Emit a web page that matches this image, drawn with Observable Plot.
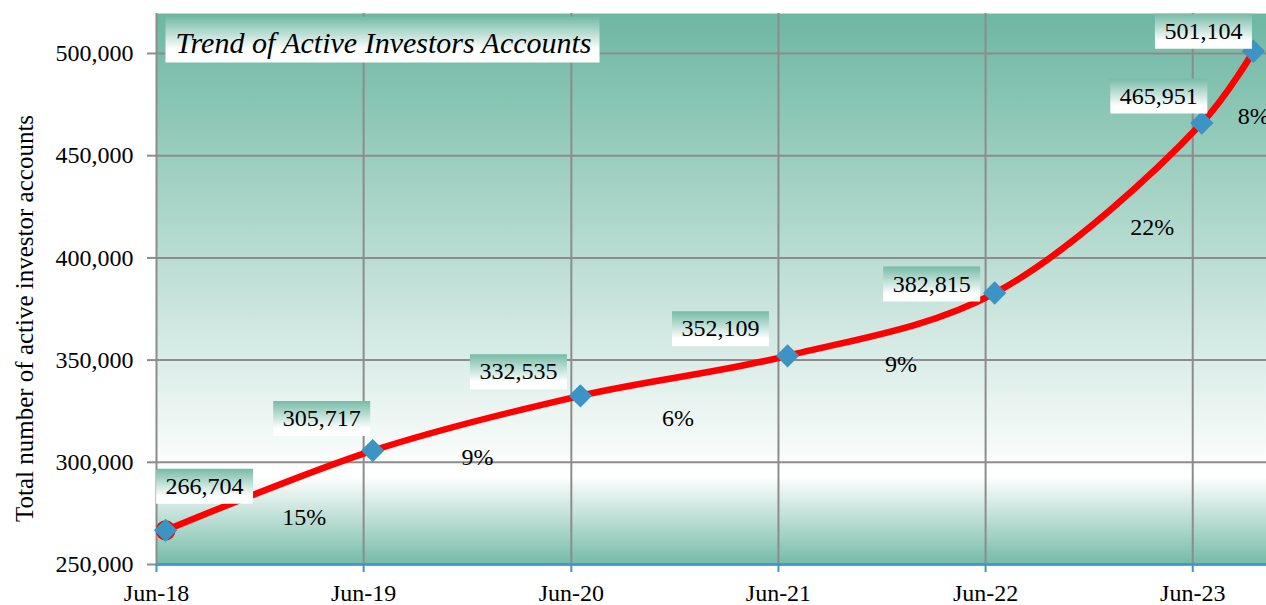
<!DOCTYPE html>
<html>
<head>
<meta charset="utf-8">
<script src="https://cdn.jsdelivr.net/npm/d3@7"></script>
<script src="https://cdn.jsdelivr.net/npm/@observablehq/plot@0.6"></script>
<style>
  html, body { margin: 0; padding: 0; background: #ffffff; }
  #chart { width: 1266px; height: 605px; }
  #chart svg, #chart svg text { font-family: "Liberation Serif", "Times New Roman", serif !important; }
</style>
</head>
<body>
<div id="chart"></div>
<script>
// ---- data ----
const periods = ["2018-06-17", "2019-06-17", "2020-06-17", "2021-06-17", "2022-06-17", "2023-06-17", "2023-09-16"];
const accounts = [266704, 305717, 332535, 352109, 382815, 465951, 501104];
const growthLabels = ["15%", "9%", "6%", "9%", "22%", "8%"];
const xTickDates = ["2018-06-01", "2019-06-01", "2020-06-01", "2021-06-01", "2022-06-01", "2023-06-01"];
const yTickValues = [250000, 300000, 350000, 400000, 450000, 500000];
const titleText = "Trend of Active Investors Accounts";
const yAxisTitle = "Total number of active investor accounts";

// ---- build table ----
const parse = d3.utcParse("%Y-%m-%d");
const data = periods.map((p, i) => ({date: parse(p), value: accounts[i]}));
const xTicks = xTickDates.map(parse);
const growth = d3.pairs(data).map(([a, b], i) => ({
  date: new Date((+a.date + +b.date) / 2),
  value: (a.value + b.value) / 2,
  label: growthLabels[i]
}));

// ---- styling / layout nudges (pixels) ----
const serif = "Liberation Serif";
const valueShift = [[39, -44], [-51, -32], [-62, -24], [-67, -27], [-63, -9], [-43, -27], [-50, -20]];
const growthShift = [[35, 27], [1, 34], [-6, 43], [10, 40], [54, 19], [26, 29]];
const gridColor = "#8c8c8c";
const axisBlue = "#3d97c6";
const fmt = d3.format(",");

const boxSymbol = {draw(ctx) { ctx.rect(-48.5, -17.5, 97, 35); }};
const titleBoxSymbol = {draw(ctx) { ctx.rect(9, 3, 434, 46); }};

function defs() {
  const g = d3.create("svg:defs");
  const bg = g.append("linearGradient").attr("id", "plotBg").attr("x1", 0).attr("y1", 0).attr("x2", 0).attr("y2", 1);
  bg.append("stop").attr("offset", "0%").attr("stop-color", "#6db7a2");
  bg.append("stop").attr("offset", "84%").attr("stop-color", "#ffffff");
  bg.append("stop").attr("offset", "100%").attr("stop-color", "#74bba7");
  const lb = g.append("linearGradient").attr("id", "labelBg").attr("x1", 0).attr("y1", 0).attr("x2", 0).attr("y2", 1);
  lb.append("stop").attr("offset", "0%").attr("stop-color", "#76bba7");
  lb.append("stop").attr("offset", "78%").attr("stop-color", "#ffffff");
  lb.append("stop").attr("offset", "100%").attr("stop-color", "#ffffff");
  const tb = g.append("linearGradient").attr("id", "titleBg").attr("x1", 0).attr("y1", 0).attr("x2", 0).attr("y2", 1);
  tb.append("stop").attr("offset", "0%").attr("stop-color", "#72baa5");
  tb.append("stop").attr("offset", "72%").attr("stop-color", "#ffffff");
  tb.append("stop").attr("offset", "100%").attr("stop-color", "#ffffff");
  return g.node();
}

const chart = Plot.plot({
  width: 1266,
  height: 605,
  marginLeft: 156,
  marginRight: 0,
  marginTop: 13,
  marginBottom: 41,
  style: {fontFamily: serif, fontSize: "24px", color: "#000000", background: "#ffffff"},
  x: {type: "utc", domain: [parse("2018-06-01"), parse("2023-10-09")]},
  y: {domain: [250000, 519570]},
  marks: [
    defs,
    Plot.frame({fill: "url(#plotBg)", stroke: null}),
    Plot.gridY({ticks: yTickValues, stroke: gridColor, strokeOpacity: 1, strokeWidth: 2}),
    Plot.gridX({ticks: xTicks, stroke: gridColor, strokeOpacity: 1, strokeWidth: 2}),
    Plot.axisY({ticks: yTickValues, tickFormat: fmt, tickSize: 9, tickPadding: 14, stroke: gridColor, strokeWidth: 2, fontSize: 24, fontFamily: serif, label: null}),
    Plot.axisX({ticks: xTicks, tickFormat: d3.utcFormat("%b-%y"), tickSize: 8, tickPadding: 11, stroke: axisBlue, strokeWidth: 2, fontSize: 24, fontFamily: serif, label: null}),
    Plot.ruleY([250000], {stroke: axisBlue, strokeWidth: 2.5}),
    Plot.line(data, {x: "date", y: "value", stroke: "#ff0000", strokeWidth: 6.5, curve: "catmull-rom"}),
    Plot.dot(data.slice(0, 1), {x: "date", y: "value", r: 10, fill: "#ff0000", stroke: null}),
    Plot.dot(data, {x: "date", y: "value", symbol: "diamond2", r: 10.5, fill: "#3b94c3", stroke: null}),
    data.map((d, i) => Plot.dot([d], {x: "date", y: "value", symbol: boxSymbol, fill: "url(#labelBg)", stroke: null, dx: valueShift[i][0], dy: valueShift[i][1]})),
    data.map((d, i) => Plot.text([d], {x: "date", y: "value", text: (v) => fmt(v.value), fontSize: 24, fontFamily: serif, fill: "#000000", dx: valueShift[i][0], dy: valueShift[i][1]})),
    growth.map((d, i) => Plot.text([d], {x: "date", y: "value", text: "label", fontSize: 24, fontFamily: serif, fill: "#000000", dx: growthShift[i][0], dy: growthShift[i][1]})),
    Plot.dot([0], {frameAnchor: "top-left", symbol: titleBoxSymbol, fill: "url(#titleBg)", stroke: null}),
    Plot.text([titleText], {frameAnchor: "top-left", textAnchor: "start", lineAnchor: "middle", dx: 19, dy: 29.4, fontSize: 30, fontFamily: serif, fontStyle: "italic", fill: "#000000"}),
    Plot.text([yAxisTitle], {frameAnchor: "left", textAnchor: "middle", lineAnchor: "middle", dx: -132, dy: 29.5, rotate: -90, fontSize: 25, fontFamily: serif, fill: "#000000"})
  ]
});
document.getElementById("chart").appendChild(chart);
</script>
</body>
</html>
